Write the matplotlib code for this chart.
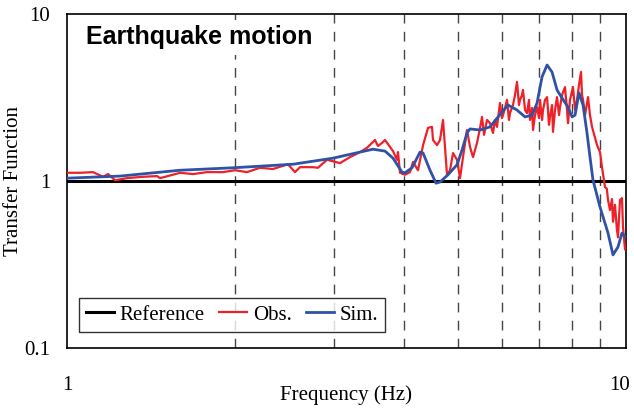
import numpy as np
import matplotlib
matplotlib.use("Agg")
import matplotlib.pyplot as plt
from matplotlib.transforms import ScaledTranslation

# Transfer function of the earthquake record: observed vs. simulated
obs_freq = [1.000, 1.055, 1.113, 1.160, 1.184, 1.219, 1.280, 1.368, 1.449, 1.467,
            1.593, 1.680, 1.780, 1.901, 1.998, 2.099, 2.214, 2.336, 2.485, 2.558,
            2.611, 2.755, 2.812, 2.918, 3.079, 3.208, 3.344, 3.441, 3.513, 3.556,
            3.600, 3.660, 3.706, 3.783, 3.830, 3.893, 3.909, 3.942, 4.024, 4.108,
            4.159, 4.245, 4.335, 4.424, 4.497, 4.516, 4.591, 4.648, 4.706, 4.745,
            4.784, 4.844, 4.904, 4.985, 5.047, 5.110, 5.195, 5.260, 5.325, 5.413,
            5.482, 5.526, 5.572, 5.595, 5.641, 5.712, 5.782, 5.830, 5.878, 5.951,
            6.000, 6.025, 6.075, 6.125, 6.176, 6.201, 6.278, 6.330, 6.383, 6.435,
            6.462, 6.515, 6.542, 6.598, 6.651, 6.706, 6.734, 6.791, 6.818, 6.874,
            6.932, 6.988, 7.017, 7.076, 7.105, 7.164, 7.224, 7.282, 7.312, 7.374,
            7.403, 7.464, 7.527, 7.589, 7.620, 7.683, 7.778, 7.843, 7.876, 7.940,
            8.039, 8.107, 8.173, 8.240, 8.309, 8.343, 8.378, 8.447, 8.552, 8.622,
            8.694, 8.875, 8.985, 9.058, 9.172, 9.240, 9.286, 9.362, 9.440, 9.478,
            9.556, 9.634, 9.676, 9.755, 9.836, 9.877, 9.959]
obs_val = [1.12, 1.12, 1.13, 1.06, 1.10, 1.01, 1.04, 1.06, 1.07, 1.04,
           1.12, 1.10, 1.13, 1.13, 1.16, 1.13, 1.20, 1.18, 1.26, 1.13,
           1.21, 1.21, 1.20, 1.34, 1.28, 1.39, 1.49, 1.58, 1.69, 1.76,
           1.62, 1.69, 1.76, 1.60, 1.51, 1.34, 1.49, 1.12, 1.09, 1.13,
           1.30, 1.16, 1.64, 2.08, 2.11, 1.76, 1.64, 1.76, 2.32, 1.60,
           1.09, 1.16, 1.47, 1.34, 1.04, 1.39, 2.02, 1.60, 1.39, 1.69,
           2.08, 2.42, 1.89, 2.02, 2.32, 2.22, 1.94, 2.32, 2.11, 2.93,
           2.38, 2.48, 2.74, 3.06, 2.32, 2.55, 2.85, 3.27, 3.92, 2.85,
           3.06, 3.27, 3.51, 2.66, 2.55, 3.06, 2.32, 2.74, 2.02, 2.48,
           2.77, 2.38, 3.06, 2.32, 2.66, 3.06, 3.18, 2.17, 2.42, 2.85,
           1.97, 2.66, 3.18, 2.48, 2.77, 3.27, 3.65, 2.66, 2.22, 3.06,
           3.65, 2.66, 3.06, 3.76, 4.50, 3.27, 3.06, 2.48, 3.18, 2.48,
           2.11, 1.64, 1.49, 1.21, 0.92, 0.90, 0.77, 0.67, 0.78, 0.57,
           0.72, 0.51, 0.46, 0.77, 0.79, 0.53, 0.39]

sim_freq = [1.000, 1.244, 1.593, 1.982, 2.537, 2.991, 3.344, 3.527, 3.706, 3.830,
            3.975, 4.024, 4.142, 4.281, 4.335, 4.461, 4.573, 4.648, 4.804, 4.985,
            5.089, 5.195, 5.260, 5.482, 5.712, 5.904, 6.152, 6.383, 6.598, 6.791,
            6.932, 7.076, 7.224, 7.374, 7.527, 7.683, 7.876, 8.007, 8.107, 8.240,
            8.378, 8.516, 8.622, 8.730, 8.985, 9.286, 9.478, 9.676, 9.836, 9.960]
sim_val = [1.04, 1.07, 1.16, 1.20, 1.26, 1.37, 1.49, 1.55, 1.51, 1.37,
           1.13, 1.12, 1.20, 1.49, 1.47, 1.16, 0.97, 0.986, 1.09, 1.25,
           1.53, 1.94, 2.05, 2.02, 2.11, 2.42, 2.85, 2.66, 2.42, 2.48,
           2.93, 4.20, 4.95, 4.49, 3.51, 3.14, 2.77, 2.42, 2.48, 3.37,
           2.85, 1.94, 1.39, 1.01, 0.699, 0.488, 0.361, 0.403, 0.488, 0.462]

ref_freq = [1, 10]
ref_val = [1, 1]

grid_freqs = [2, 3, 4, 5, 6, 7, 8, 9]

plt.rcParams['font.family'] = ['Liberation Serif', 'DejaVu Serif']

fig = plt.figure(figsize=(6.34, 4.08), dpi=100)
ax = fig.add_axes([67 / 634, 1 - 348 / 408, 559 / 634, 334 / 408])

for f in grid_freqs:
    ax.axvline(f, color='#454545', lw=1.0, ls=(0, (7, 6)), zorder=1)

ax.plot(ref_freq, ref_val, color='black', lw=2.2, label='Reference', zorder=3)
ax.plot(obs_freq, obs_val, color='#EE2028', lw=1.6, label='Obs.', zorder=4)
ax.plot(sim_freq, sim_val, color='#2F52A6', lw=2.0, label='Sim.', zorder=5)

ax.set_xscale('log')
ax.set_yscale('log')
ax.set_xlim(1, 10)
ax.set_ylim(0.1, 10)

ax.set_xticks([1, 10])
ax.set_xticklabels(['1', '10'])
ax.set_yticks([0.1, 1, 10])
ax.set_yticklabels(['0.1', '1', '10'])
ax.minorticks_off()
ax.tick_params(axis='x', length=0, pad=20, labelsize=15)
ax.tick_params(axis='y', length=0, pad=12, labelsize=15)

# nudge the right-hand "10" so it stays inside the figure
lbl = ax.get_xticklabels()[1]
lbl.set_transform(lbl.get_transform() + ScaledTranslation(-5 / 72, 0, fig.dpi_scale_trans))

for s in ax.spines.values():
    s.set_linewidth(1.2)

ax.set_xlabel('Frequency (Hz)', fontsize=15)
ax.xaxis.set_label_coords(0.5, -0.112)
ax.set_ylabel('Transfer Function', fontsize=15)
ax.yaxis.set_label_coords(-0.078, 0.5)

ax.text(0.034, 0.931, 'Earthquake motion', transform=ax.transAxes,
        fontsize=18, fontweight='bold', family=['Liberation Sans', 'DejaVu Sans'],
        va='center', ha='left', zorder=6,
        bbox=dict(facecolor='white', edgecolor='none', pad=4))

leg = ax.legend(loc='lower left', bbox_to_anchor=(12 / 559, 16 / 334),
                borderaxespad=0, ncol=3, fontsize=15, frameon=True,
                fancybox=False, handlelength=1.35, handletextpad=0.25,
                columnspacing=0.7, borderpad=0.35)
leg.get_frame().set_edgecolor('black')
leg.get_frame().set_linewidth(1.0)
leg.set_zorder(7)

fig.savefig('out.png', dpi=100)
